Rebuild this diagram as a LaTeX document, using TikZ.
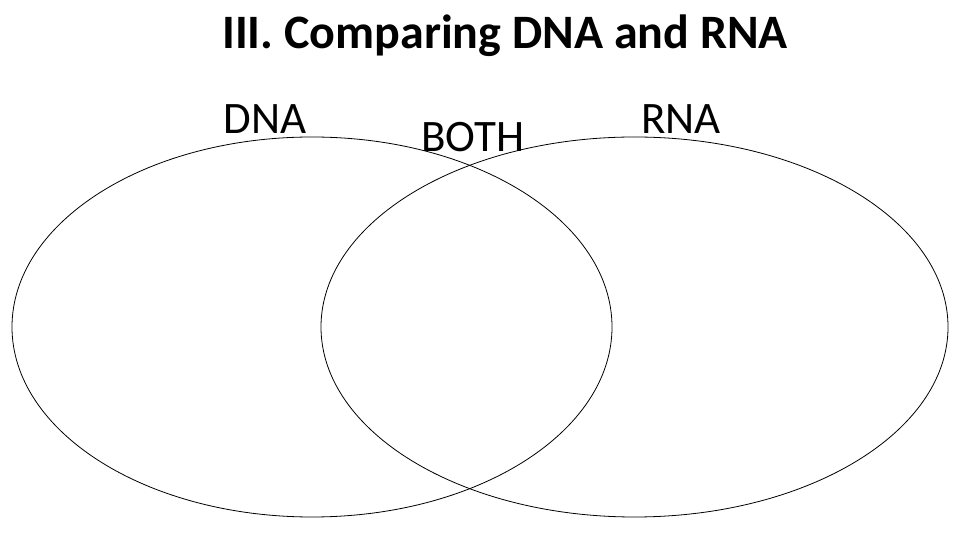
\documentclass[tikz,border=0pt]{standalone}
\usepackage{fontspec}
\setmainfont{Carlito}
\begin{document}
\begin{tikzpicture}[x=1pt,y=1pt,lbl/.style={font=\fontsize{45}{50}\selectfont,inner sep=0pt}]
\useasboundingbox (0,0) rectangle (960,540);
\draw[line width=0.8pt] (312,213) ellipse [x radius=300,y radius=190];
\draw[line width=0.8pt] (634.5,213) ellipse [x radius=313.5,y radius=190];
\node[font=\bfseries\fontsize{48}{52}\selectfont,inner sep=0pt] (title) at (505,504) {III. Comparing DNA and RNA};
\node[lbl] (dna) at (265,421) {DNA};
\node[lbl] (both) at (473,403) {BOTH};
\node[lbl] (rna) at (681,421) {RNA};
\end{tikzpicture}
\end{document}
